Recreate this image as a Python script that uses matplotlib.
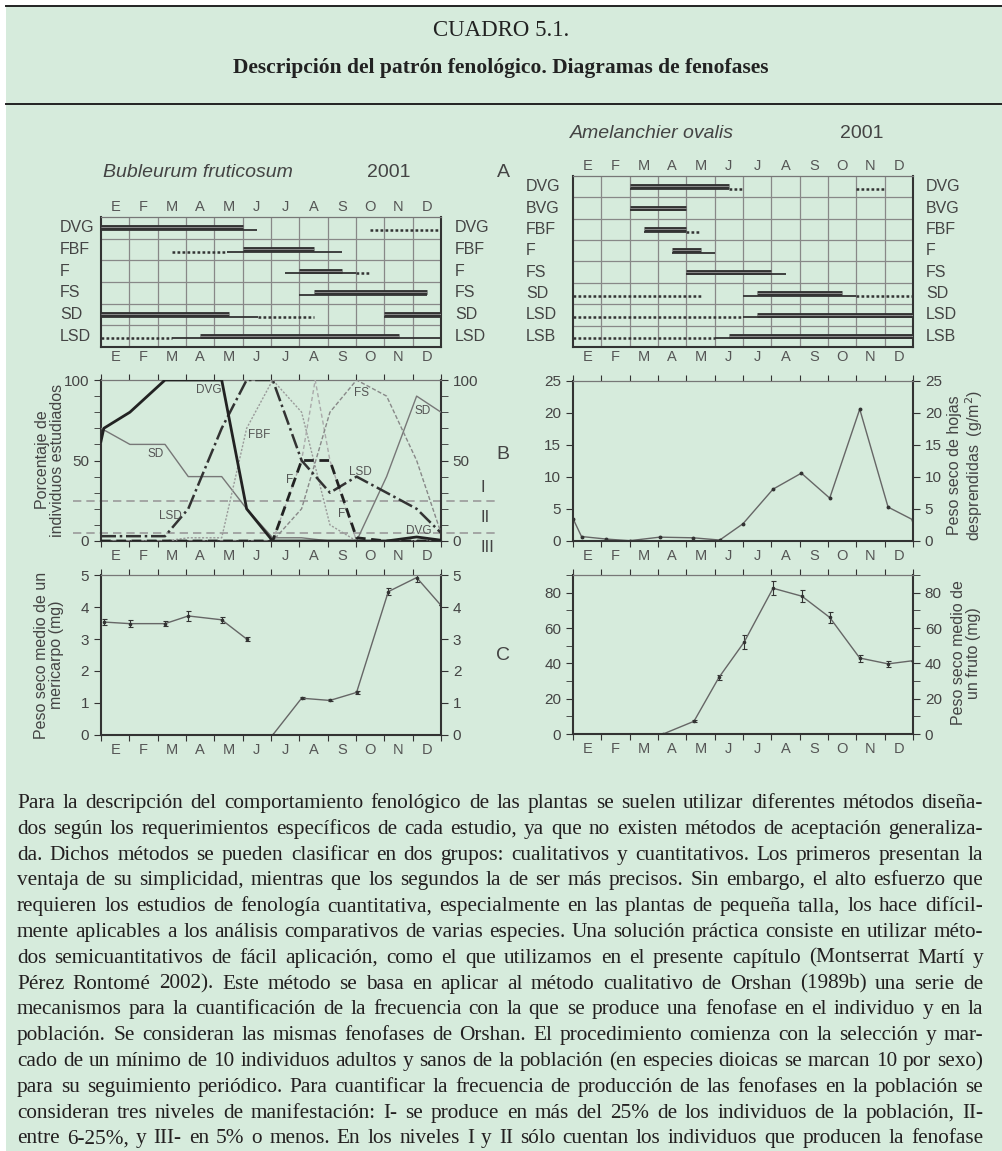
import numpy as np
import matplotlib
matplotlib.use("Agg")
import matplotlib.pyplot as plt
from matplotlib.lines import Line2D
from matplotlib.patches import Rectangle

plt.rcParams['font.family'] = ['Liberation Sans', 'DejaVu Sans']

W, H = 1002, 1151
GREEN = '#d6ebdc'
INK = '#333333'
GREY = '#555555'

months = ['E', 'F', 'M', 'A', 'M', 'J', 'J', 'A', 'S', 'O', 'N', 'D']

# --- phenophase diagrams (month units, 0 = 1 Jan, 12 = 31 Dec) ---
bub_rows = ['DVG', 'FBF', 'F', 'FS', 'SD', 'LSD']
bub_thick = [[(0, 5)], [(5, 7.5)], [(7, 8.5)], [(7.5, 11.5)], [(0, 4.5), (10, 12)], [(3.5, 10.5)]]
bub_thin = [[(0, 5.5)], [(4.45, 8.5)], [(6.5, 9)], [(7, 11.5)], [(0, 5.55), (10, 12)], [(2.5, 12)]]
bub_dots = [[(9.5, 12)], [(2.5, 4.45)], [(9, 9.5)], [], [(5.55, 7.5)], [(0, 2.5)]]

ame_rows = ['DVG', 'BVG', 'FBF', 'F', 'FS', 'SD', 'LSD', 'LSB']
ame_thick = [[(2, 5.5)], [(2, 4)], [(2.5, 4)], [(3.5, 4.5)], [(4, 7)], [(6.5, 9.5)], [(6.5, 12)], [(5.5, 12)]]
ame_thin = [[(2, 5.5)], [(2, 4)], [(2.5, 4)], [(3.5, 5)], [(4, 7.5)], [(6, 10)], [(6, 12)], [(5, 12)]]
ame_dots = [[(5.5, 6), (10, 11)], [], [(4, 4.5)], [], [], [(0, 4.5), (10, 12)], [(0, 6)], [(0, 5)]]

# --- percentage of individuals (Bupleurum) ---
x_pct = [0, 1.02, 2.26, 3.08, 4.26, 5.14, 6.06, 7.08, 8.08, 9.02, 10.08, 11.14, 12]
x_dvg = [0, 0.1, 1.02, 2.26, 4.26, 5.14, 6.06, 7.08, 8.08, 9.02, 10.08, 11.14, 12]
dvg_pct = [62, 70, 80, 100, 100, 20, 0, 0, 0, 0, 0, 2.5, 0.5]
sd_pct = [70, 60, 60, 40, 40, 20, 2, 2, 0, 0, 40, 90, 80]
lsd_pct = [3, 3, 3, 20, 70, 100, 100, 50, 30, 40, 30, 20, 5]
fbf_pct = [0, 0, 0, 2, 2, 70, 100, 80, 10, 0, 0, 0, 0]
f_pct = [0, 0, 0, 0, 0, 0, 0, 50, 50, 2, 0, 0, 0]
fs_pct = [0, 0, 0, 0, 0, 0, 0, 20, 80, 100, 90, 50, 5]
x_f2 = [6.06, 7.08, 7.56, 8.08, 9.02]
f2_pct = [0, 50, 100, 50, 0]

# --- leaf litter (Amelanchier) ---
x_leaf = [0, 0.3, 1.18, 2.0, 3.06, 4.24, 5.18, 6.0, 7.06, 8.06, 9.06, 10.12, 11.12, 12]
leaf = [3.5, 0.7, 0.3, 0.05, 0.6, 0.5, 0.15, 2.7, 8.1, 10.6, 6.7, 20.6, 5.3, 3.3]

# --- mericarp weight (Bupleurum) ---
x_mer1 = [0.1, 1.02, 2.26, 3.08, 4.26, 5.14]
mer1 = [3.53, 3.48, 3.48, 3.72, 3.6, 3.0]
mer1_err = [0.1, 0.1, 0.08, 0.15, 0.1, 0.07]
x_mer2 = [6.06, 7.08, 8.08, 9.02, 10.14, 11.14, 12]
mer2 = [0, 1.15, 1.08, 1.33, 4.48, 4.92, 4.05]
mer2_err = [0, 0.03, 0.03, 0.06, 0.12, 0.15, 0]

# --- fruit weight (Amelanchier) ---
x_fru = [3.18, 4.27, 5.15, 6.04, 7.06, 8.08, 9.06, 10.12, 11.12, 12]
fru = [0, 7.2, 32, 52, 82.5, 78, 66, 43, 39.7, 41.5]
fru_err = [0, 0.5, 1.5, 4, 4, 3.5, 3, 2, 1.5, 0]

body = [
    "Para la descripción del comportamiento fenológico de las plantas se suelen utilizar diferentes métodos diseña-",
    "dos según los requerimientos específicos de cada estudio, ya que no existen métodos de aceptación generaliza-",
    "da. Dichos métodos se pueden clasificar en dos grupos: cualitativos y cuantitativos. Los primeros presentan la",
    "ventaja de su simplicidad, mientras que los segundos la de ser más precisos. Sin embargo, el alto esfuerzo que",
    "requieren los estudios de fenología cuantitativa, especialmente en las plantas de pequeña talla, los hace difícil-",
    "mente aplicables a los análisis comparativos de varias especies. Una solución práctica consiste en utilizar méto-",
    "dos semicuantitativos de fácil aplicación, como el que utilizamos en el presente capítulo (Montserrat Martí y",
    "Pérez Rontomé 2002). Este método se basa en aplicar al método cualitativo de Orshan (1989b) una serie de",
    "mecanismos para la cuantificación de la frecuencia con la que se produce una fenofase en el individuo y en la",
    "población. Se consideran las mismas fenofases de Orshan. El procedimiento comienza con la selección y mar-",
    "cado de un mínimo de 10 individuos adultos y sanos de la población (en especies dioicas se marcan 10 por sexo)",
    "para su seguimiento periódico. Para cuantificar la frecuencia de producción de las fenofases en la población se",
    "consideran tres niveles de manifestación: I- se produce en más del 25% de los individuos de la población, II-",
    "entre 6-25%, y III- en 5% o menos. En los niveles I y II sólo cuentan los individuos que producen la fenofase",
]

fig = plt.figure(figsize=(W / 100, H / 100), dpi=100)
fig.patch.set_facecolor('white')
fig.add_artist(Rectangle((6 / W, 0), 1 - 6 / W, 1 - 6 / H, transform=fig.transFigure,
                         facecolor=GREEN, edgecolor='none', zorder=-10))
for yy in [6, 104]:
    fig.add_artist(Line2D([6 / W, 1], [1 - yy / H] * 2, color='#222222', lw=1.4))


def box(x0, y0, x1, y1):
    return [x0 / W, 1 - y1 / H, (x1 - x0) / W, (y1 - y0) / H]


def ftext(x, y, s, **kw):
    kw.setdefault('color', '#444444')
    return fig.text(x / W, 1 - y / H, s, **kw)


ftext(501, 31, "CUADRO 5.1.", fontsize=16.5, family='Liberation Serif', ha='center', va='center', color='#222222')
ftext(501, 68, "Descripción del patrón fenológico. Diagramas de fenofases", fontsize=15.5,
      family='Liberation Serif', weight='bold', ha='center', va='center', color='#222222')


def style_spines(ax):
    for s in ['left', 'right', 'bottom']:
        ax.spines[s].set_color(INK)
        ax.spines[s].set_linewidth(1.5)
    ax.spines['top'].set_color('#777777')
    ax.spines['top'].set_linewidth(0.9)
    ax.patch.set_alpha(0)


def phen_panel(rect, rows, thick, thin, dots, lab_left, lab_right):
    ax = fig.add_axes(box(*rect))
    n = len(rows)
    ax.set_xlim(0, 12)
    ax.set_ylim(n, 0)
    style_spines(ax)
    ax.set_xticks([])
    ax.set_yticks([])
    for m in range(1, 12):
        ax.axvline(m, color='#888888', lw=0.9, zorder=1)
    for r in range(1, n):
        ax.axhline(r, color='#888888', lw=0.9, zorder=1)
    for i in range(n):
        for a, b in thin[i]:
            ax.plot([a, b], [i + 0.6] * 2, color=INK, lw=1.3, solid_capstyle='butt', zorder=3)
        for a, b in thick[i]:
            ax.plot([a, b], [i + 0.48] * 2, color=INK, lw=3.5, solid_capstyle='butt', zorder=4)
            ax.plot([a, b], [i + 0.48] * 2, color='#9a9a9a', lw=0.6, solid_capstyle='butt', zorder=5)
        for a, b in dots[i]:
            ax.plot([a, b], [i + 0.6] * 2, color=INK, lw=1.8, ls=(0, (1.1, 0.9)), zorder=3)
        ax.text(lab_left, i + 0.5, rows[i], transform=ax.get_yaxis_transform(), fontsize=11.5,
                color='#444444', ha='left', va='center')
        ax.text(lab_right, i + 0.5, rows[i], transform=ax.get_yaxis_transform(), fontsize=11.5,
                color='#444444', ha='left', va='center')
    for k, m in enumerate(months):
        ax.text(k + 0.5, -0.12, m, ha='center', va='bottom', fontsize=10.5, color=GREY)
        ax.text(k + 0.5, n + 0.12, m, ha='center', va='top', fontsize=10.5, color=GREY)
    return ax


phen_panel((101, 217, 441, 347), bub_rows, bub_thick, bub_thin, bub_dots, -0.12, 1.041)
phen_panel((573, 176, 913, 347), ame_rows, ame_thick, ame_thin, ame_dots, -0.138, 1.038)

ftext(103, 173, "Bubleurum fruticosum", fontsize=14, style='italic', ha='left', va='center')
ftext(389, 173, "2001", fontsize=14, ha='center', va='center')
ftext(570, 133, "Amelanchier ovalis", fontsize=14, style='italic', ha='left', va='center')
ftext(862, 133, "2001", fontsize=14, ha='center', va='center')
ftext(503, 173, "A", fontsize=14, ha='center', va='center')
ftext(503, 455, "B", fontsize=14, ha='center', va='center')
ftext(503, 655, "C", fontsize=14, ha='center', va='center')


def data_panel(rect, ylim, major, minor=None):
    ax = fig.add_axes(box(*rect))
    style_spines(ax)
    ax.set_xlim(0, 12)
    ax.set_ylim(*ylim)
    ax.set_xticks(range(13))
    ax.set_xticklabels([])
    ax.set_xticks(np.arange(0.5, 12), minor=True)
    ax.set_xticklabels(months, minor=True)
    ax.set_yticks(major)
    if minor is not None:
        ax.set_yticks(minor, minor=True)
    ax.tick_params(axis='x', which='major', top=True, direction='out', length=4, color=INK)
    ax.tick_params(axis='x', which='minor', length=0, pad=6, labelsize=10.5, labelcolor=GREY)
    ax.tick_params(axis='y', which='both', left=True, right=True, labelright=True,
                   direction='out', length=5, color=INK, labelsize=11, labelcolor='#444444')
    return ax


# B left: percentage of individuals
axb = data_panel((101, 380, 441, 541), (0, 100), [0, 50, 100], np.arange(0, 101, 10))
for lvl in [25, 5]:
    axb.axhline(lvl, xmin=-0.082, xmax=1.17, clip_on=False, color='#9a9a9a', lw=1.2,
                ls=(0, (5, 3)), zorder=1)
axb.plot(x_pct, sd_pct, color='#777777', lw=1.0, zorder=3)
axb.plot(x_pct, fbf_pct, color='#9a9a9a', lw=1.0, ls=(0, (1.5, 1.2)), zorder=3)
axb.plot(x_f2, f2_pct, color='#aaaaaa', lw=1.0, ls=(0, (3, 2)), zorder=3)
axb.plot(x_pct, fs_pct, color='#888888', lw=1.0, ls=(0, (3, 1.5)), zorder=3)
axb.plot(x_pct, lsd_pct, color=INK, lw=1.8, ls=(0, (6, 1.5, 1, 1.5)), zorder=4)
axb.plot(x_pct, f_pct, color='#222222', lw=2.0, ls=(0, (3.5, 2)), zorder=4)
axb.plot(x_dvg, dvg_pct, color='#222222', lw=2.0, zorder=5)
for s, xx, yy in [("DVG", 3.79, 94), ("SD", 1.94, 54), ("LSD", 2.44, 15.5), ("FBF", 5.6, 66),
                  ("F", 6.67, 38), ("F", 8.49, 17), ("FS", 9.2, 92), ("SD", 11.35, 81),
                  ("LSD", 9.14, 43), ("DVG", 11.2, 6.5)]:
    axb.text(xx, yy, s, fontsize=8.5, color=GREY, ha='center', va='center', zorder=6)
for s, yy in [("I", 487), ("II", 518), ("III", 548)]:
    ftext(481, yy, s, fontsize=12, ha='left', va='center')
ftext(50, 460, "Porcentaje de\nindividuos estudiados", fontsize=11.5, rotation=90,
      ha='center', va='center', multialignment='center', linespacing=1.05)

# B right: leaf litter
axl = data_panel((573, 381, 913, 541), (0, 25), range(0, 26, 5))
axl.plot(x_leaf, leaf, color='#666666', lw=1.0, marker='o', ms=1.8, mfc=INK, mec=INK)
ftext(966, 465, "Peso seco de hojas\ndesprendidas  (g/m$^2$)", fontsize=11.5, rotation=90,
      ha='center', va='center', multialignment='center', linespacing=1.05)

# C left: mericarp weight
axm = data_panel((101, 575, 441, 735), (0, 5), range(0, 6))
for xx, yy, ee in [(x_mer1, mer1, mer1_err), (x_mer2, mer2, mer2_err)]:
    axm.errorbar(xx, yy, yerr=ee, color='#666666', lw=1.0, ecolor=INK, elinewidth=0.8,
                 capsize=1.8, capthick=0.8, marker='o', ms=1.6, mfc=INK, mec=INK)
ftext(49, 655, "Peso seco medio de un\nmericarpo (mg)", fontsize=11.5, rotation=90,
      ha='center', va='center', multialignment='center', linespacing=1.05)

# C right: fruit weight
axf = data_panel((573, 575, 913, 734), (0, 90), range(0, 81, 20), range(0, 91, 10))
axf.errorbar(x_fru, fru, yerr=fru_err, color='#666666', lw=1.0, ecolor=INK, elinewidth=0.8,
             capsize=1.8, capthick=0.8, marker='o', ms=1.6, mfc=INK, mec=INK)
ftext(966, 653, "Peso seco medio de\nun fruto (mg)", fontsize=11.5, rotation=90,
      ha='center', va='center', multialignment='center', linespacing=1.05)

# body text, justified word by word; size chosen so the widest line just fits
renderer = fig.canvas.get_renderer()
x_left, x_right = 17, 983
probe = [ftext(0, 0, line, fontsize=14, family='Liberation Serif') for line in body]
widest = max(t.get_window_extent(renderer=renderer).width for t in probe)
for t in probe:
    t.remove()
body_size = 14 * (x_right - x_left) / widest * 0.995

for i, line in enumerate(body):
    yb = 808 + 25.8 * i
    words = line.split(' ')
    ts = [ftext(0, yb, w, fontsize=body_size, family='Liberation Serif', va='baseline', color='#231f20')
          for w in words]
    widths = [t.get_window_extent(renderer=renderer).width for t in ts]
    gap = (x_right - x_left - sum(widths)) / (len(words) - 1)
    xx = x_left
    for t, w in zip(ts, widths):
        t.set_x(xx / W)
        xx += w + gap

fig.savefig("out.png", dpi=100, facecolor=fig.get_facecolor())
